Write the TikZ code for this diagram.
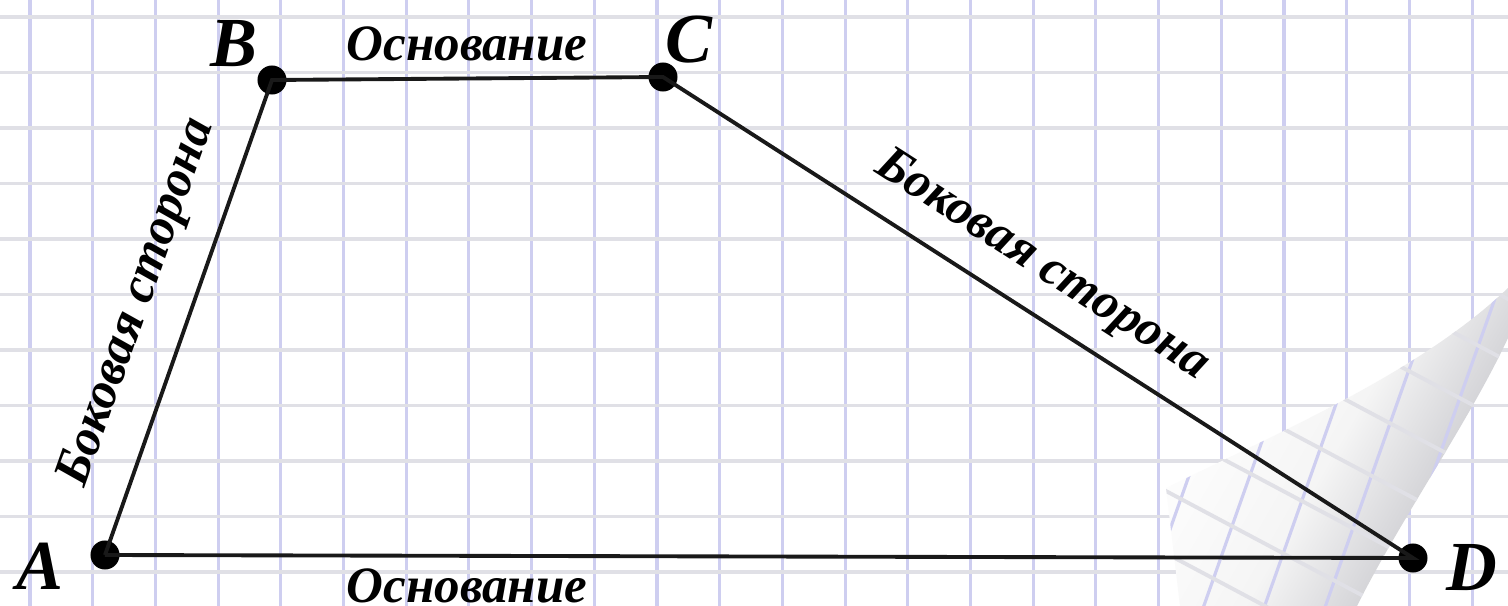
\documentclass[tikz,border=0pt]{standalone}
\usepackage{fontspec}
\setmainfont{Liberation Serif}
\definecolor{vgrid}{RGB}{206,206,240}
\definecolor{hgrid}{RGB}{224,224,230}
\definecolor{flapdark}{RGB}{190,190,196}
\begin{document}
\begin{tikzpicture}[x=0.01cm,y=-0.01cm,
  vline/.style={draw=vgrid,line width=0.9pt},
  hline/.style={draw=hgrid,line width=1.1pt},
  vertex/.style={circle,fill=black,inner sep=0pt,minimum size=0.29cm},
  ptlabel/.style={font=\fontsize{20}{24}\selectfont\bfseries\itshape,inner sep=0pt},
  sidelabel/.style={font=\fontsize{14.5}{17}\selectfont\bfseries\itshape,inner sep=0pt},
  edge/.style={draw=black!90,line width=1.1pt}]
\useasboundingbox (0,0) rectangle (1508,606);
\fill[white] (0,0) rectangle (1508,606);
% main grid
\foreach \k in {0,...,24} {\draw[vline] ({30+62.7*\k},0) -- ({30+62.7*\k},606);}
\foreach \k in {0,...,10} {\draw[hline] (0,{17+55.5*\k}) -- (1508,{17+55.5*\k});}
% page curl
\path[top color=white, bottom color=flapdark, middle color=white!96!black, shading angle=60]
  (1508,288) .. controls (1420,372) and (1280,432) .. (1166,488)
  -- (1180,606) -- (1357,606)
  .. controls (1400,520) and (1470,420) .. (1508,338) -- cycle;
\begin{scope}
\clip (1508,288) .. controls (1420,372) and (1280,432) .. (1166,488)
  -- (1180,606) -- (1357,606)
  .. controls (1400,520) and (1470,420) .. (1508,338) -- cycle;
\begin{scope}[shift={(1300,500)},rotate=-28]
\foreach \k in {-6,...,6} {\draw[vline] ({58*\k},-400) -- ({58*\k+120},400);}
\foreach \k in {-6,...,6} {\draw[hline] (-400,{55*\k}) -- (400,{55*\k});}
\end{scope}
\end{scope}
% trapezoid
\node[vertex] (A) at (105,555) {};
\node[vertex] (B) at (272,80) {};
\node[vertex] (C) at (663,77) {};
\node[vertex] (D) at (1413,558) {};
\draw[edge] (A.center) -- (B.center) -- (C.center) -- (D.center) -- (A.center);
\node[ptlabel] (lA) at (40,566) {A};
\node[ptlabel] (lB) at (234,44) {B};
\node[ptlabel] (lC) at (689,40) {C};
\node[ptlabel] (lD) at (1472,568) {D};
\node[sidelabel] (top) at (467,44) {Основание};
\node[sidelabel] (bot) at (467,586) {Основание};
\node[sidelabel,rotate=70.6] (left) at (138,303) {Боковая сторона};
\node[sidelabel,rotate=-32.7] (right) at (1042,266) {Боковая сторона};
\end{tikzpicture}
\end{document}
